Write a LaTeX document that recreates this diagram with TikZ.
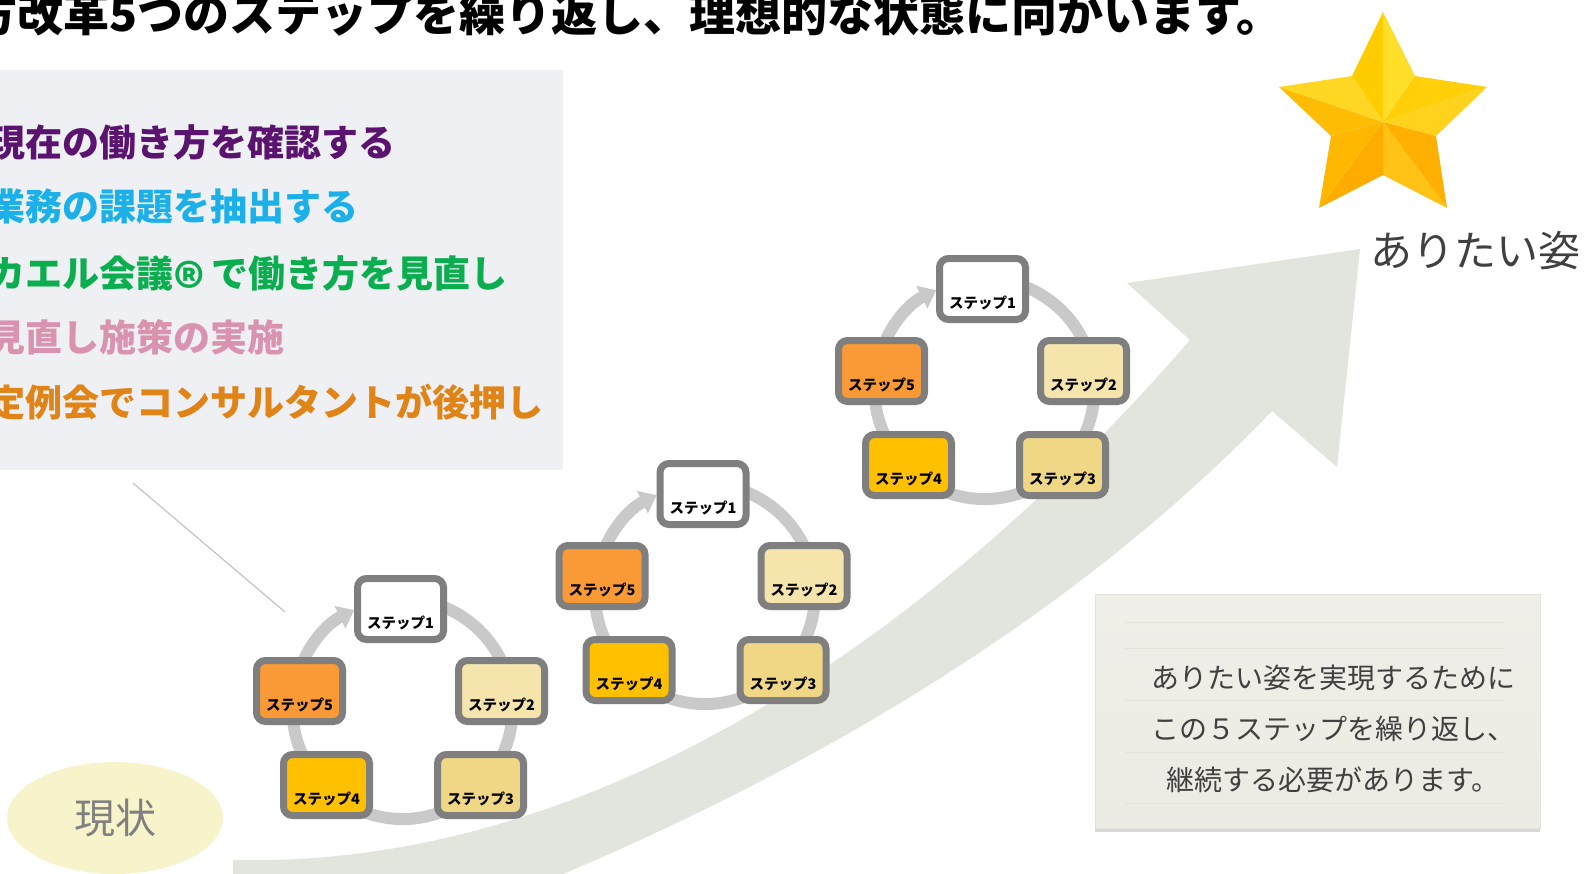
\documentclass[tikz,border=0pt]{standalone}
\usepackage{fontspec}
\newfontfamily\jp{Noto Sans CJK JP}
\usetikzlibrary{shapes.geometric,shadows,arrows.meta}
\definecolor{panelbg}{HTML}{EFF0F4}
\definecolor{arrowbg}{HTML}{E2E5DD}
\definecolor{ringgray}{HTML}{C9C9C9}
\definecolor{boxgray}{HTML}{7F7F7F}
\definecolor{sA}{HTML}{FFFFFF}
\definecolor{sB}{HTML}{F5E4AC}
\definecolor{sC}{HTML}{F0D785}
\definecolor{sD}{HTML}{FFC000}
\definecolor{sE}{HTML}{FA9A36}
\definecolor{lpurple}{HTML}{5A1470}
\definecolor{lcyan}{HTML}{1BB0EA}
\definecolor{lgreen}{HTML}{0AAE4E}
\definecolor{lpink}{HTML}{D993AE}
\definecolor{lorange}{HTML}{E08418}
\definecolor{darktext}{HTML}{404040}
\definecolor{nowfill}{HTML}{F7F3CB}
\definecolor{nowtext}{HTML}{808080}
\definecolor{notefill}{HTML}{ECEBE3}
\definecolor{notetop}{HTML}{EFEEE8}
\definecolor{noteline}{HTML}{E4E3DA}
\definecolor{thinline}{HTML}{C4C4C4}
\tikzset{
  stepbox/.style={draw=boxgray, line width=7pt, rounded corners=9pt,
    minimum width=86pt, minimum height=61pt, inner sep=0pt,
    drop shadow={shadow xshift=1pt, shadow yshift=-2.5pt, opacity=0.25}},
  steplabel/.style={font=\jp\bfseries\fontsize{14.5}{16}\selectfont, text=black, inner sep=0pt},
  ringline/.style={draw=ringgray, line width=12pt},
  paneltext/.style={anchor=west, inner sep=0pt, font=\jp\bfseries\fontsize{37}{40}\selectfont},
}
\newcommand\stepcycle[3]{%
  \begin{scope}[shift={(#2,#3)}]
    \draw[ringline,-{Triangle[width=24pt,length=16pt]}] (21.1,-8.3) arc[start angle=-80,end angle=244,radius=110];
    \node[stepbox,fill=sA] (#1s1) at (0,0) {};
    \node[stepbox,fill=sB] (#1s2) at (101,82) {};
    \node[stepbox,fill=sC] (#1s3) at (80,176) {};
    \node[stepbox,fill=sD] (#1s4) at (-74,176) {};
    \node[stepbox,fill=sE] (#1s5) at (-101,82) {};
    \node[steplabel] (#1t1) at (0,14) {ステップ1};
    \node[steplabel] (#1t2) at (101,96) {ステップ2};
    \node[steplabel] (#1t3) at (80,190) {ステップ3};
    \node[steplabel] (#1t4) at (-74,190) {ステップ4};
    \node[steplabel] (#1t5) at (-101,96) {ステップ5};
  \end{scope}}
\begin{document}
\begin{tikzpicture}[x=1pt,y=-1pt]
\useasboundingbox (0,0) rectangle (1587,873);
\clip (0,0) rectangle (1587,873);
\fill[white] (0,0) rectangle (1587,873);
% left panel
\fill[panelbg] (0,70) rectangle (563,470);
% big arrow
\fill[arrowbg] (233,860) .. controls (650,870) and (1000,560) .. (1190,340)
  -- (1127,283) -- (1360,249) -- (1337,467) -- (1272,411)
  .. controls (1100,590) and (850,760) .. (500,900) -- (233,900) -- cycle;
% thin line
\coordinate (la) at (133,483);
\coordinate (lb) at (285,612);
\draw[thinline, line width=1.2pt] (la) -- (lb);
% current state
\node[ellipse, fill=nowfill, minimum width=216pt, minimum height=112pt, inner sep=0pt,
  text=nowtext, font=\jp\fontsize{41}{44}\selectfont] (now) at (115,818) {現状};
% title
\node[anchor=base east, inner sep=0pt, font=\jp\bfseries\fontsize{46}{50}\selectfont] (title) at (1283,31)
  {働き方改革5つのステップを繰り返し、理想的な状態に向かいます。};
% panel texts
\node[paneltext, text=lpurple] (p1) at (-12,142) {現在の働き方を確認する};
\node[paneltext, text=lcyan] (p2) at (-12,207) {業務の課題を抽出する};
\node[paneltext, text=lgreen] (p3) at (-12,273) {カエル会議\smash{\raisebox{-0.6em}{\scalebox{1.6}{®}}}\,で働き方を見直し};
\node[paneltext, text=lpink] (p4) at (-12,337) {見直し施策の実施};
\node[paneltext, text=lorange] (p5) at (-12,402) {定例会でコンサルタントが後押し};
% cycles
\stepcycle{a}{400.5}{609}
\stepcycle{b}{703}{494}
\stepcycle{c}{982.5}{289}
% star
\coordinate (T) at (1383,12);
\coordinate (UR) at (1415,76);
\coordinate (R) at (1487,87);
\coordinate (LR) at (1436,136);
\coordinate (BR) at (1447,208);
\coordinate (B) at (1383,175);
\coordinate (BL) at (1319,208);
\coordinate (LL) at (1331,136);
\coordinate (L) at (1279,87);
\coordinate (UL) at (1352,76);
\coordinate (C) at (1383,122);
\fill[color={rgb,255:red,255;green,204;blue,0}] (C) -- (T) -- (UL) -- cycle;
\fill[color={rgb,255:red,255;green,222;blue,42}] (C) -- (T) -- (UR) -- cycle;
\fill[color={rgb,255:red,255;green,207;blue,10}] (C) -- (UR) -- (R) -- cycle;
\fill[color={rgb,255:red,255;green,210;blue,30}] (C) -- (R) -- (LR) -- cycle;
\fill[color={rgb,255:red,255;green,176;blue,0}] (C) -- (LR) -- (BR) -- cycle;
\fill[color={rgb,255:red,255;green,194;blue,21}] (C) -- (BR) -- (B) -- cycle;
\fill[color={rgb,255:red,255;green,172;blue,0}] (C) -- (B) -- (BL) -- cycle;
\fill[color={rgb,255:red,255;green,184;blue,0}] (C) -- (BL) -- (LL) -- cycle;
\fill[color={rgb,255:red,255;green,188;blue,5}] (C) -- (LL) -- (L) -- cycle;
\fill[color={rgb,255:red,255;green,214;blue,34}] (C) -- (L) -- (UL) -- cycle;
% goal text
\node[anchor=west, inner sep=0pt, text=darktext, font=\jp\fontsize{42}{46}\selectfont] (goal) at (1370,251) {ありたい姿};
% note box
\node[top color=notetop, bottom color=notefill, draw=noteline, line width=1pt,
  minimum width=445pt, minimum height=234pt, inner sep=0pt,
  drop shadow={shadow xshift=0pt, shadow yshift=-4pt, opacity=0.3}] (note) at (1317.5,711) {};
\foreach \yy in {622,648,700,752,803} {\draw[noteline, line width=1pt] (1125,\yy) -- (1505,\yy);}
\node[align=center, inner sep=0pt, text=darktext, font=\jp\fontsize{28}{51}\selectfont] (notetext) at (1333,729)
  {ありたい姿を実現するために\\この５ステップを繰り返し、\\継続する必要があります。};
\end{tikzpicture}
\end{document}
